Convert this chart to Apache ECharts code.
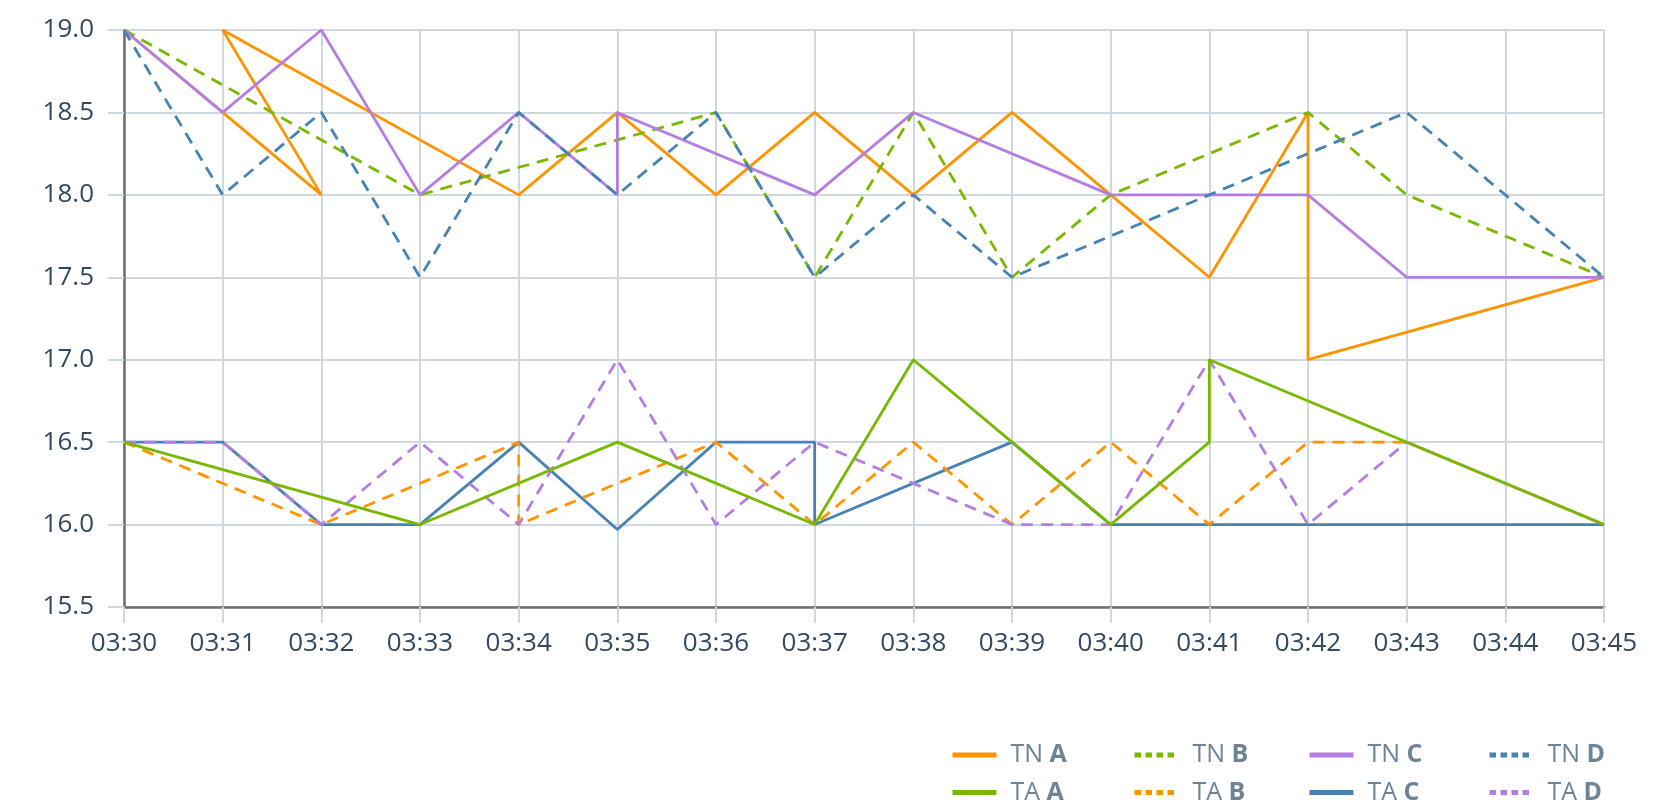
<!DOCTYPE html>
<html>
<head>
<meta charset="utf-8">
<script src="https://cdn.jsdelivr.net/npm/echarts@6/dist/echarts.min.js"></script>
<style>
html,body{margin:0;padding:0;background:#fff;}
#chart{width:1664px;height:808px;}
</style>
</head>
<body>
<div id="chart"></div>
<script>
// x tick labels (minutes)
const xTicks = ['03:30','03:31','03:32','03:33','03:34','03:35','03:36','03:37','03:38','03:39','03:40','03:41','03:42','03:43','03:44','03:45'];

// TN A
const tnA_time = ['03:30','03:31','03:32','03:31','03:34','03:35','03:36','03:37','03:38','03:39','03:40','03:41','03:42','03:42','03:45'];
const tnA_val  = [19.0, 18.5, 18.0, 19.0, 18.0, 18.5, 18.0, 18.5, 18.0, 18.5, 18.0, 17.5, 18.5, 17.0, 17.5];
// TN B
const tnB_time = ['03:30','03:33','03:36','03:37','03:38','03:39','03:40','03:42','03:43','03:45'];
const tnB_val  = [19.0, 18.0, 18.5, 17.5, 18.5, 17.5, 18.0, 18.5, 18.0, 17.5];
// TN C
const tnC_time = ['03:30','03:31','03:32','03:33','03:34','03:35','03:35','03:37','03:38','03:40','03:42','03:43','03:45'];
const tnC_val  = [19.0, 18.5, 19.0, 18.0, 18.5, 18.0, 18.5, 18.0, 18.5, 18.0, 18.0, 17.5, 17.5];
// TN D
const tnD_time = ['03:30','03:31','03:32','03:33','03:34','03:35','03:36','03:37','03:38','03:39','03:41','03:43','03:45'];
const tnD_val  = [19.0, 18.0, 18.5, 17.5, 18.5, 18.0, 18.5, 17.5, 18.0, 17.5, 18.0, 18.5, 17.5];
// TA A
const taA_time = ['03:30','03:33','03:35','03:37','03:38','03:39','03:40','03:41','03:41','03:45'];
const taA_val  = [16.5, 16.0, 16.5, 16.0, 17.0, 16.5, 16.0, 16.5, 17.0, 16.0];
// TA B
const taB_time = ['03:30','03:32','03:34','03:34','03:36','03:37','03:38','03:39','03:40','03:41','03:42','03:43','03:45'];
const taB_val  = [16.5, 16.0, 16.5, 16.0, 16.5, 16.0, 16.5, 16.0, 16.5, 16.0, 16.5, 16.5, 16.0];
// TA C
const taC_time = ['03:30','03:31','03:32','03:33','03:34','03:35','03:36','03:37','03:37','03:39','03:40','03:45'];
const taC_val  = [16.5, 16.5, 16.0, 16.0, 16.5, 15.97, 16.5, 16.5, 16.0, 16.5, 16.0, 16.0];
// TA D
const taD_time = ['03:30','03:31','03:32','03:33','03:34','03:35','03:36','03:37','03:39','03:40','03:41','03:42','03:43','03:45'];
const taD_val  = [16.5, 16.5, 16.0, 16.5, 16.0, 17.0, 16.0, 16.5, 16.0, 16.0, 17.0, 16.0, 16.5, 16.0];

const C_ORANGE = '#ff9300';
const C_GREEN  = '#78b900';
const C_PURPLE = '#b47de3';
const C_BLUE   = '#4682b4';
const GRID = '#d0d8df';
const AXIS = '#6e6e6e';
const DASH = [12, 8];

function pts(times, vals) {
  return times.map((t, i) => [xTicks.indexOf(t), vals[i]]);
}
function mk(name, times, vals, color, dashed) {
  return {
    name: name, type: 'line', data: pts(times, vals),
    showSymbol: false, symbol: 'none', animation: false,
    lineStyle: { color: color, width: 2.8, type: dashed ? DASH : 'solid' },
    itemStyle: { color: color },
    emphasis: { disabled: true }
  };
}

const series = [
  mk('TN A', tnA_time, tnA_val, C_ORANGE, false),
  mk('TN B', tnB_time, tnB_val, C_GREEN, true),
  mk('TN C', tnC_time, tnC_val, C_PURPLE, false),
  mk('TN D', tnD_time, tnD_val, C_BLUE, true),
  mk('TA C', taC_time, taC_val, C_BLUE, false),
  mk('TA B', taB_time, taB_val, C_ORANGE, true),
  mk('TA D', taD_time, taD_val, C_PURPLE, true),
  mk('TA A', taA_time, taA_val, C_GREEN, false)
];

const legendFont = { fontFamily: 'Open Sans', fontSize: 25, color: '#6e8396', lineHeight: 30 };
function legendCol(left, names, dashed) {
  return {
    orient: 'vertical', left: left, top: 740, height: 80,
    padding: 0,
    itemWidth: 44, itemHeight: 30, itemGap: 7.5,
    selectedMode: false,
    itemStyle: { opacity: 0 },
    data: names.map((n, i) => ({
      name: n,
      itemStyle: { opacity: 0 },
      lineStyle: { width: 5, type: dashed[i] ? [6.5, 4.5] : 'solid', cap: 'butt' }
    })),
    formatter: function (name) {
      const p = name.split(' ');
      return '{n|' + p[0] + '} {b|' + p[1] + '}';
    },
    textStyle: Object.assign({}, legendFont, {
      rich: {
        n: Object.assign({}, legendFont, { padding: [0, 0, 0, 9] }),
        b: Object.assign({}, legendFont, { fontWeight: 'bold' })
      }
    })
  };
}

const chart = echarts.init(document.getElementById('chart'), null, { renderer: 'canvas' });
chart.setOption({
  animation: false,
  backgroundColor: '#ffffff',
  grid: { left: 124, right: 60, top: 30, bottom: 201, containLabel: false },
  xAxis: {
    type: 'value', min: 0, max: 15, interval: 1,
    axisLine: { show: true, lineStyle: { color: AXIS, width: 2.5 } },
    axisTick: { show: true, length: 16, lineStyle: { color: GRID, width: 2 } },
    splitLine: { show: true, lineStyle: { color: GRID, width: 2 } },
    axisLabel: {
      margin: 24, fontFamily: 'Open Sans', fontSize: 26, color: '#34495e',
      formatter: function (v) { return xTicks[Math.round(v)] || ''; }
    }
  },
  yAxis: {
    type: 'value', min: 15.5, max: 19.0, interval: 0.5,
    axisLine: { show: true, lineStyle: { color: AXIS, width: 2.5 } },
    axisTick: { show: true, length: 16, lineStyle: { color: GRID, width: 2 } },
    splitLine: { show: true, lineStyle: { color: GRID, width: 2 } },
    axisLabel: {
      margin: 30, fontFamily: 'Open Sans', fontSize: 26, color: '#34495e',
      formatter: function (v) { return v.toFixed(1); }
    }
  },
  legend: [
    legendCol(950, ['TN A', 'TA A'], [false, false]),
    legendCol(1132, ['TN B', 'TA B'], [true, true]),
    legendCol(1307, ['TN C', 'TA C'], [false, false]),
    legendCol(1487, ['TN D', 'TA D'], [true, true])
  ],
  series: series
});
</script>
</body>
</html>
